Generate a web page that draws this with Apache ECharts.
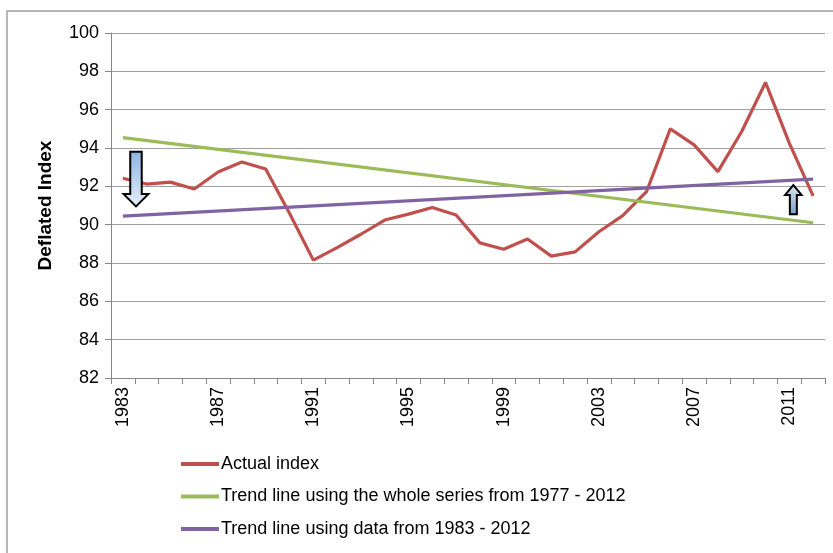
<!DOCTYPE html>
<html>
<head>
<meta charset="utf-8">
<script src="https://cdn.jsdelivr.net/npm/echarts@6/dist/echarts.min.js"></script>
<style>
  html, body { margin: 0; padding: 0; background: #ffffff; }
  #chart { width: 833px; height: 553px; }
</style>
</head>
<body>
<div id="chart"></div>
<script>
// Years shown on the category axis
const years = ['1983','1984','1985','1986','1987','1988','1989','1990','1991','1992',
               '1993','1994','1995','1996','1997','1998','1999','2000','2001','2002',
               '2003','2004','2005','2006','2007','2008','2009','2010','2011','2012'];

// Deflated index, one value per year
const actualIndex = [92.42, 92.12, 92.22, 91.86, 92.75, 93.27, 92.9, 90.6, 88.15, 88.8,
                     89.5, 90.24, 90.55, 90.9, 90.5, 89.05, 88.72, 89.25, 88.36, 88.58,
                     89.63, 90.47, 91.72, 95.0, 94.16, 92.77, 94.86, 97.42, 94.25, 91.5];

// Straight trend lines: value at the first and last year
const trendWholeYears = ['1983', '2012'];
const trendWholeValues = [94.54, 90.1];
const trend8312Years = ['1983', '2012'];
const trend8312Values = [90.45, 92.38];

const seriesNames = ['Actual index',
                     'Trend line using the whole series from 1977 - 2012',
                     'Trend line using data from 1983 - 2012'];

const FONT = 'Liberation Sans, Arial, sans-serif';
const RED = '#C0504D', GREEN = '#9BBB59', PURPLE = '#8064A2';

const chart = echarts.init(document.getElementById('chart'), null, { renderer: 'canvas' });

const pairs = (xs, ys) => xs.map((x, i) => [x, ys[i]]);

chart.setOption({
  animation: false,
  backgroundColor: '#ffffff',
  grid: { left: 111, right: 8, top: 33, bottom: 175 },
  xAxis: {
    type: 'category',
    data: years,
    boundaryGap: true,
    axisLine: { lineStyle: { color: '#868686', width: 1 } },
    axisTick: { show: true, interval: 0, length: 6, lineStyle: { color: '#868686' } },
    axisLabel: { interval: 3, rotate: 90, margin: 9, color: '#000', fontFamily: FONT, fontSize: 18 },
    splitLine: { show: false }
  },
  yAxis: {
    type: 'value',
    min: 82, max: 100, interval: 2,
    name: 'Deflated Index',
    nameLocation: 'middle',
    nameGap: 56,
    nameTextStyle: { fontFamily: FONT, fontSize: 19, fontWeight: 'bold', color: '#000' },
    axisLine: { show: true, lineStyle: { color: '#868686', width: 1 } },
    axisTick: { show: true, length: 6, lineStyle: { color: '#868686' } },
    axisLabel: { margin: 12, color: '#000', fontFamily: FONT, fontSize: 18 },
    splitLine: { lineStyle: { color: '#a0a0a0', width: 1 } }
  },
  legend: {
    orient: 'vertical',
    left: 176, top: 450,
    icon: 'rect',
    itemWidth: 38, itemHeight: 4,
    itemGap: 14.5,
    textStyle: { fontFamily: FONT, fontSize: 18, color: '#000', lineHeight: 18, padding: [0, 0, 0, -3] },
    data: seriesNames
  },
  series: [
    {
      name: seriesNames[0], type: 'line', data: actualIndex,
      symbol: 'none', color: RED,
      lineStyle: { color: RED, width: 3.2 }
    },
    {
      name: seriesNames[1], type: 'line', data: pairs(trendWholeYears, trendWholeValues),
      symbol: 'none', color: GREEN,
      lineStyle: { color: GREEN, width: 3.2 }
    },
    {
      name: seriesNames[2], type: 'line', data: pairs(trend8312Years, trend8312Values),
      symbol: 'none', color: PURPLE,
      lineStyle: { color: PURPLE, width: 3.2 }
    }
  ]
});

// Block arrows placed in data space (fractional category index, value)
function px(idx, val) {
  const x0 = chart.convertToPixel({ xAxisIndex: 0 }, 0);
  const x1 = chart.convertToPixel({ xAxisIndex: 0 }, 1);
  return [x0 + idx * (x1 - x0), chart.convertToPixel({ yAxisIndex: 0 }, val)];
}

function blockArrow(idx, vBase, vHead, vTip, shaftW, headW, grad) {
  const cx = px(idx, vBase)[0];
  const yb = px(idx, vBase)[1], yh = px(idx, vHead)[1], yt = px(idx, vTip)[1];
  const s = shaftW / 2, h = headW / 2;
  return {
    type: 'polygon',
    z: 100,
    shape: { points: [[cx - s, yb], [cx + s, yb], [cx + s, yh], [cx + h, yh], [cx, yt], [cx - h, yh], [cx - s, yh]] },
    style: {
      fill: new echarts.graphic.LinearGradient(0, 0, 0, 1, grad),
      stroke: '#000', lineWidth: 2, lineJoin: 'miter'
    }
  };
}

chart.setOption({
  graphic: [
    {
      // chart-area frame: left and top edges
      type: 'polyline', silent: true, z: -1,
      shape: { points: [[7, 560], [7, 11], [840, 11]] },
      style: { fill: null, stroke: '#a0a0a0', lineWidth: 1.5 }
    },
    blockArrow(0.55, 93.8, 91.6, 90.95, 11.5, 25,
      [{ offset: 0, color: '#8db3e2' }, { offset: 1, color: '#e8f0fa' }]),
    blockArrow(28.17, 90.55, 91.55, 92.07, 7, 16.5,
      [{ offset: 0, color: '#dbe5f1' }, { offset: 1, color: '#7f9fc8' }])
  ]
});
</script>
</body>
</html>
